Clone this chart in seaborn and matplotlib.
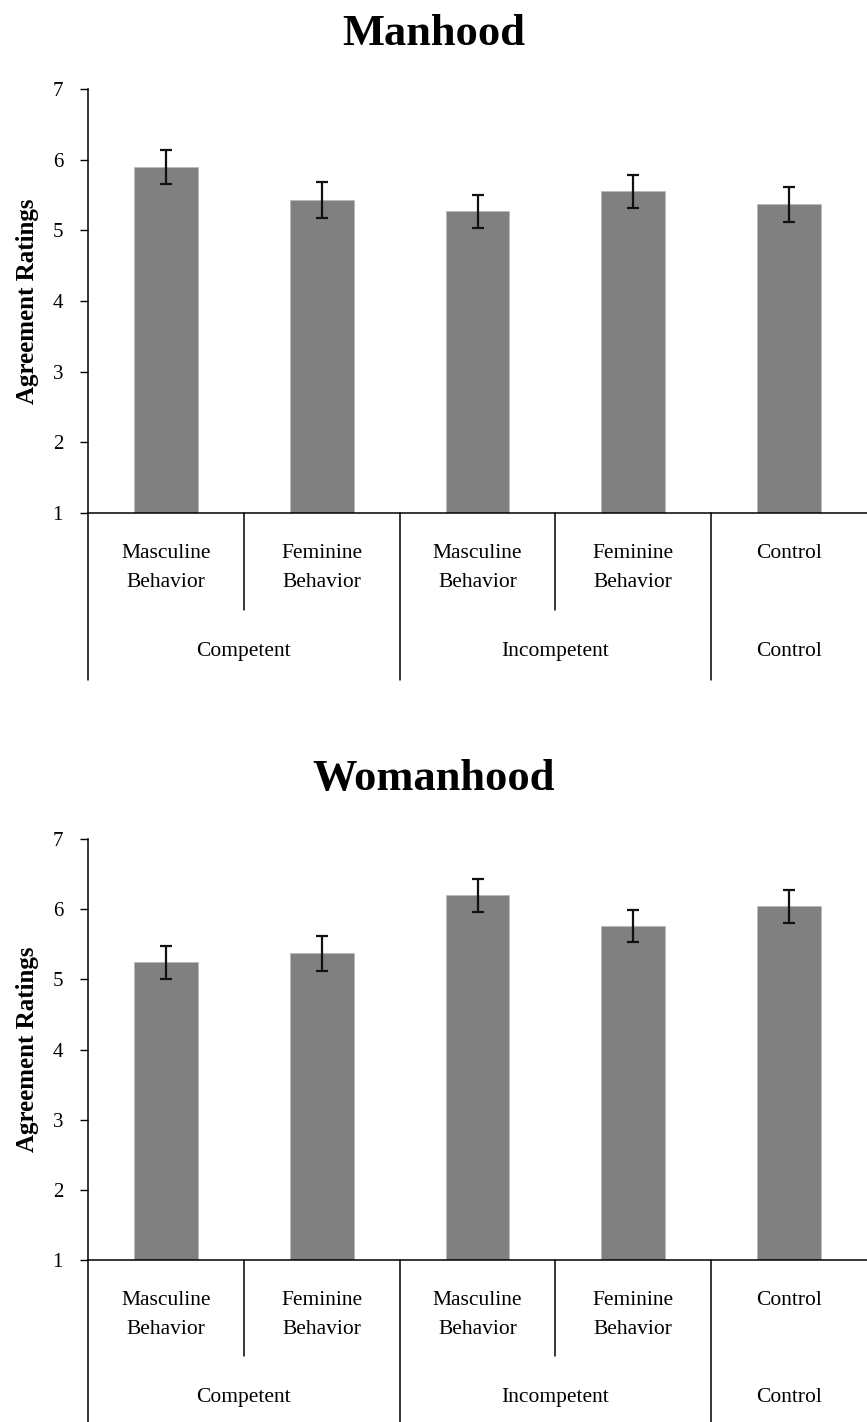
import numpy as np
import pandas as pd
import seaborn as sns
import matplotlib.pyplot as plt

# values
conditions = ["comp_masc", "comp_fem", "incomp_masc", "incomp_fem", "control"]
behavior_labels = ["Masculine\nBehavior", "Feminine\nBehavior", "Masculine\nBehavior", "Feminine\nBehavior", "Control"]
group_labels = ["Competent", "Incompetent", "Control"]
group_centers = [0.5, 2.5, 4.0]

manhood_means = [5.90, 5.43, 5.27, 5.55, 5.37]
manhood_err = [0.24, 0.25, 0.23, 0.235, 0.245]
womanhood_means = [5.24, 5.37, 6.20, 5.76, 6.04]
womanhood_err = [0.235, 0.25, 0.235, 0.23, 0.235]

sns.set_theme(style="white")
plt.rcParams['font.family'] = ['Liberation Serif', 'DejaVu Serif']
plt.rcParams['text.color'] = 'black'
plt.rcParams['axes.labelcolor'] = 'black'
plt.rcParams['xtick.color'] = 'black'
plt.rcParams['ytick.color'] = 'black'


def draw_panel(ax, means, errs, title, fig, title_y):
    df = pd.DataFrame({'condition': conditions, 'mean': means})
    sns.barplot(data=df, x='condition', y='mean', order=conditions, color='#808080',
                saturation=1, width=0.41, errorbar=None, edgecolor='#b8b8b8', linewidth=0.6, ax=ax)
    ax.errorbar(np.arange(len(conditions)), means, yerr=errs, fmt='none', ecolor='#111111',
                elinewidth=1.6, capsize=4.3, capthick=1.6, zorder=5)

    ax.set_xlim(-0.5, 4.5)
    ax.set_ylim(1, 7)
    ax.set_yticks(range(1, 8))
    ax.tick_params(axis='y', direction='out', length=6, width=1, color='black', pad=12, labelsize=15, left=True)
    ax.set_xticks(range(len(conditions)))
    ax.set_xticklabels(behavior_labels, fontsize=15.5, linespacing=1.75)
    ax.tick_params(axis='x', length=0, pad=22)
    ax.set_xlabel('')
    ax.set_ylabel('Agreement Ratings', fontsize=18, fontweight='bold')
    ax.yaxis.set_label_coords(-0.063, 0.5)

    for side in ['top', 'right']:
        ax.spines[side].set_visible(False)
    for side in ['left', 'bottom']:
        ax.spines[side].set_color('black')
        ax.spines[side].set_linewidth(1.1)

    # category separators under the axis
    trans = ax.get_xaxis_transform()
    for xs in [0.5, 2.5]:
        ax.plot([xs, xs], [0, -0.229], color='black', lw=1.1, transform=trans, clip_on=False)
    for xs in [-0.5, 1.5, 3.5]:
        ax.plot([xs, xs], [0, -0.394], color='black', lw=1.1, transform=trans, clip_on=False)
    for xc, lab in zip(group_centers, group_labels):
        ax.text(xc, -0.326, lab, transform=trans, ha='center', va='center', fontsize=15.5)

    fig.text(0.5, title_y, title, ha='center', va='center', fontsize=32, fontweight='bold')


fig = plt.figure(figsize=(8.67, 14.22), dpi=100)
ax1 = fig.add_axes([0.1015, 0.6392, 0.8985, 0.2982])
ax2 = fig.add_axes([0.1015, 0.1139, 0.8985, 0.2961])

draw_panel(ax1, manhood_means, manhood_err, 'Manhood', fig, 0.976)
draw_panel(ax2, womanhood_means, womanhood_err, 'Womanhood', fig, 0.452)

fig.savefig('out.png', dpi=100, facecolor='white')
